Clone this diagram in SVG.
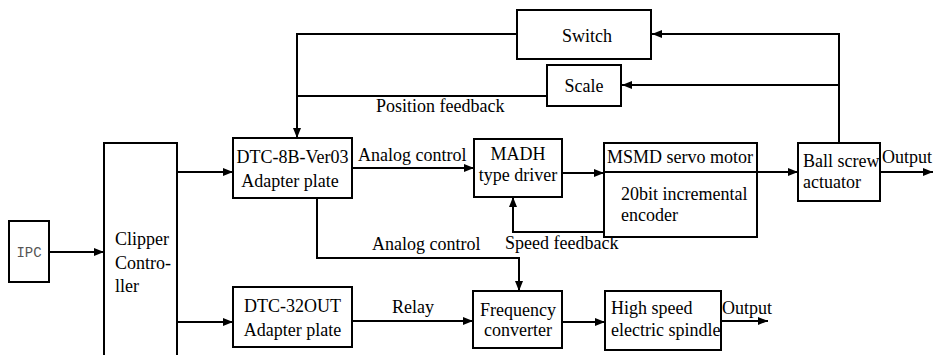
<svg xmlns="http://www.w3.org/2000/svg" width="939" height="355" viewBox="0 0 939 355">
<style>
.box{fill:#fff;stroke:#000;stroke-width:2}
.t{font-family:'Liberation Serif','DejaVu Serif',serif;font-size:18px;fill:#000}
.m{text-anchor:middle}
.ln{fill:none;stroke:#000;stroke-width:2}
</style>
<defs>
<marker id="ah" markerUnits="userSpaceOnUse" markerWidth="11" markerHeight="9" refX="10" refY="4" orient="auto">
<path d="M0,0 L10,4 L0,8 z" fill="#000"/>
</marker>
</defs>
<rect width="939" height="355" fill="#fff"/>
<g id="connectors">
<path class="ln" d="M49 252 H104" marker-end="url(#ah)"/>
<path class="ln" d="M177 172 H233" marker-end="url(#ah)"/>
<path class="ln" d="M177 322 H233" marker-end="url(#ah)"/>
<path class="ln" d="M352 168 H474" marker-end="url(#ah)"/>
<path class="ln" d="M562 173 H604" marker-end="url(#ah)"/>
<path class="ln" d="M757 172 H798" marker-end="url(#ah)"/>
<path class="ln" d="M880 172 H933" marker-end="url(#ah)"/>
<path class="ln" d="M839 143 V34 H652" marker-end="url(#ah)"/>
<path class="ln" d="M839 85 H622" marker-end="url(#ah)"/>
<path class="ln" d="M517 34 H297 V138" marker-end="url(#ah)"/>
<path class="ln" d="M547 96 H297"/>
<path class="ln" d="M317 198 V258 H519 V291" marker-end="url(#ah)"/>
<path class="ln" d="M352 321 H473" marker-end="url(#ah)"/>
<path class="ln" d="M562 322 H605" marker-end="url(#ah)"/>
<path class="ln" d="M721 321 H768" marker-end="url(#ah)"/>
<path class="ln" d="M604 232 H513 V197" marker-end="url(#ah)"/>
<text class="t" x="358" y="161">Analog control</text>
<text class="t" x="372" y="250">Analog control</text>
<text class="t" x="505" y="249">Speed feedback</text>
<text class="t" x="376" y="112">Position feedback</text>
<text class="t" x="392" y="313">Relay</text>
<text class="t" x="882" y="163">Output</text>
<text class="t" x="722" y="314">Output</text>
</g>
<g id="ipc">
<rect class="box" x="9" y="221" width="40" height="61"/>
<text x="29" y="257" text-anchor="middle" style="font-family:'Liberation Mono','DejaVu Sans Mono',monospace;font-size:14px;fill:#555">IPC</text>
</g>
<g id="clipper">
<path class="ln" d="M104 356 V143 H177 V356"/>
<text class="t" x="115" y="245">Clipper</text>
<text class="t" x="115" y="269">Contro-</text>
<text class="t" x="115" y="292">ller</text>
</g>
<g id="dtc8b">
<rect class="box" x="233" y="138" width="119" height="60"/>
<text class="t m" x="292.5" y="163">DTC-8B-Ver03</text>
<text class="t m" x="290" y="187">Adapter plate</text>
</g>
<g id="dtc32">
<rect class="box" x="233" y="287" width="119" height="60"/>
<text class="t m" x="292.5" y="312">DTC-32OUT</text>
<text class="t m" x="292.5" y="336">Adapter plate</text>
</g>
<g id="switch">
<rect class="box" x="517" y="10" width="134" height="49"/>
<text class="t m" x="587" y="42">Switch</text>
</g>
<g id="scale">
<rect class="box" x="547" y="65" width="74" height="41"/>
<text class="t m" x="584" y="92">Scale</text>
</g>
<g id="madh">
<rect class="box" x="474" y="139" width="88" height="58"/>
<text class="t m" x="518" y="160">MADH</text>
<text class="t m" x="518" y="181">type driver</text>
</g>
<g id="msmd">
<rect class="box" x="604" y="143" width="153" height="94"/>
<line class="ln" x1="604" y1="172" x2="757" y2="172"/>
<text class="t" x="607" y="163">MSMD servo motor</text>
<text class="t" x="621" y="200">20bit incremental</text>
<text class="t" x="621" y="221">encoder</text>
</g>
<g id="ballscrew">
<rect class="box" x="798" y="143" width="82" height="58"/>
<text class="t" x="803" y="167">Ball screw</text>
<text class="t" x="803" y="188">actuator</text>
</g>
<g id="freq">
<rect class="box" x="473" y="291" width="89" height="57"/>
<text class="t m" x="518" y="316">Frequency</text>
<text class="t m" x="518" y="336">converter</text>
</g>
<g id="spindle">
<rect class="box" x="605" y="291" width="116" height="59"/>
<text class="t" x="611" y="314">High speed</text>
<text class="t" x="611" y="336">electric spindle</text>
</g>
</svg>
